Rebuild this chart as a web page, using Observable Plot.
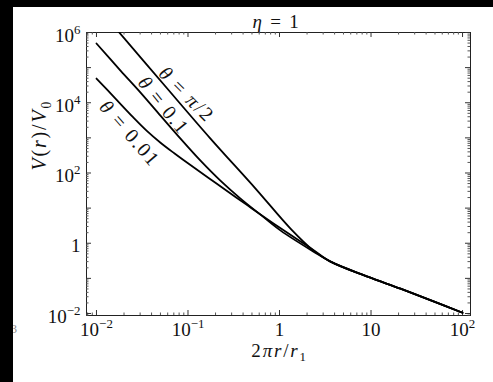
<!DOCTYPE html>
<html><head><meta charset="utf-8">
<script src="https://cdn.jsdelivr.net/npm/d3@7"></script>
<script src="https://cdn.jsdelivr.net/npm/@observablehq/plot@0.6"></script>
<style>
html,body{margin:0;padding:0;background:#000;width:493px;height:382px;overflow:hidden}
#panel{position:absolute;left:13px;top:7px;width:480px;height:375px;background:#fff;overflow:hidden}
#stray{position:absolute;left:-2px;top:315px;font:12px "Liberation Serif",serif;color:#888}
#chart{position:absolute;left:0;top:0}
</style></head><body>
<div id="panel"><div id="chart"></div><span id="stray">3</span></div>
<script>
// ---- data ----
const thetaNames = ["π/2", "0.1", "0.01"];
const x_halfpi = [0.0162, 0.0568, 0.176, 0.547, 1.318, 2.355];
const v_halfpi = [1.32e6, 2.90e4, 955, 36.0, 2.61, 0.615];
const x_01 = [0.01, 0.0183, 0.0303, 0.0500, 0.0828, 0.137, 0.226, 0.375, 0.620, 1.03, 2.355];
const v_01 = [4.87e5, 8.26e4, 1.95e4, 4320, 955, 225, 60.7, 18.7, 6.53, 2.29, 0.577];
const x_001 = [0.01, 0.01585, 0.0251, 0.0355, 0.0501, 0.0708, 0.1, 0.1995, 0.447, 1.0, 2.239];
const v_001 = [4.89e4, 1.377e4, 3882, 1581, 728, 365, 189, 52.7, 11.97, 2.80, 0.70];
// common large-r tail shared by all three curves
const x_tail = [3.61, 9.16, 21.0, 48.2, 100];
const v_tail = [0.299, 0.112, 0.0508, 0.0222, 0.0105];

const xTicks = [0.01, 0.1, 1, 10, 100];
const xTickLabels = ["10^-2", "10^-1", "1", "10", "10^2"];
const yTicks = [1e-2, 1, 1e2, 1e4, 1e6];
const yTickLabels = ["10^-2", "1", "10^2", "10^4", "10^6"];
const yDecades = [1e-2, 1e-1, 1, 1e1, 1e2, 1e3, 1e4, 1e5, 1e6];

const curveLabels = ["θ = π/2", "θ = 0.1", "θ = 0.01"];
const labelX = [0.0964, 0.0540, 0.0230];
const labelV = [1.71e4, 8320, 1327];
const labelAngle = [45, 51, 49];

const titleText = "η = 1";
const xLabelText = "2πr/r1";
const yLabelText = "V(r)/V0";

// ---- build tables ----
const series = [[x_halfpi, v_halfpi], [x_01, v_01], [x_001, v_001]];
const rows = [];
series.forEach(([xs, vs], i) => {
  xs.forEach((x, j) => rows.push({theta: thetaNames[i], x, v: vs[j]}));
  x_tail.forEach((x, j) => rows.push({theta: thetaNames[i], x, v: v_tail[j]}));
});
const minorX = [], minorY = [];
for (let e = -3; e <= 2; e++) for (let m = 2; m <= 9; m++) {
  const t = m * 10 ** e; if (t > 0.0078 && t < 122) minorX.push(t);
}
for (let e = -3; e <= 5; e++) for (let m = 2; m <= 9; m++) {
  const t = m * 10 ** e; if (t > 0.00877 && t < 1e6) minorY.push(t);
}
const labels = curveLabels.map((t, i) => ({t, x: labelX[i], v: labelV[i], a: labelAngle[i]}));

const W = 480, H = 375, mL = 73, mR = 23, mT = 25, mB = 67;
const fw = W - mL - mR, fh = H - mT - mB;
const font = "Liberation Serif";

const chart = Plot.plot({
  width: W, height: H,
  marginLeft: mL, marginRight: mR, marginTop: mT, marginBottom: mB,
  style: {fontFamily: font, background: "white", color: "black"},
  x: {type: "log", domain: [10 ** -2.109, 10 ** 2.087], axis: null},
  y: {type: "log", domain: [10 ** -2.057, 1e6], axis: null},
  marks: [
    Plot.frame({stroke: "#222", strokeWidth: 1}),
    // inward ticks, all four sides
    Plot.tickX(xTicks, {x: d => d, insetTop: fh - 5, stroke: "#333"}),
    Plot.tickX(xTicks, {x: d => d, insetBottom: fh - 5, stroke: "#333"}),
    Plot.tickX(minorX, {x: d => d, insetTop: fh - 2.5, stroke: "#555"}),
    Plot.tickX(minorX, {x: d => d, insetBottom: fh - 2.5, stroke: "#555"}),
    Plot.tickY(yDecades, {y: d => d, insetRight: fw - 5, stroke: "#333"}),
    Plot.tickY(yDecades, {y: d => d, insetLeft: fw - 5, stroke: "#333"}),
    Plot.tickY(minorY, {y: d => d, insetRight: fw - 2.5, stroke: "#555"}),
    Plot.tickY(minorY, {y: d => d, insetLeft: fw - 2.5, stroke: "#555"}),
    // curves
    Plot.line(rows, {x: "x", y: "v", z: "theta", stroke: "black", strokeWidth: 1.8, curve: "catmull-rom", clip: true}),
    // tick labels
    Plot.text(xTicks, {x: d => d, frameAnchor: "bottom", dy: 20, text: (d, i) => xTickLabels[i], fontSize: 19, fill: "#111"}),
    Plot.text(yTicks, {y: d => d, frameAnchor: "left", dx: -6, dy: 3, textAnchor: "end", text: (d, i) => yTickLabels[i], fontSize: 19, fill: "#111"}),
    // axis titles
    Plot.text([xLabelText], {frameAnchor: "bottom", dx: 1, dy: 41, text: d => d, fontSize: 19, fill: "#111"}),
    Plot.text([yLabelText], {frameAnchor: "left", dx: -47, dy: -3.5, rotate: -90, text: d => d, fontSize: 20, fill: "#111"}),
    Plot.text([titleText], {frameAnchor: "top", dx: -2, dy: -18, text: d => d, fontSize: 19, fill: "#111"}),
    // curve labels
    Plot.text(labels, {x: "x", y: "v", text: "t", rotate: "a", fontSize: 20, fill: "#111"})
  ]
});
document.getElementById("chart").appendChild(chart);

// ---- math-style rich text (italics, sub/superscripts, wider spacing) ----
const rich = {
  "2πr/r1": [["2"], ["πr", "i"], ["/"], ["r", "i"], ["1", "sub"]],
  "V(r)/V0": [["V", "i"], ["("], ["r", "i"], [")/"], ["V", "i"], ["0", "sub"]],
  "η = 1": [["η", "i"], [" = 1"]],
  "θ = π/2": [["θ", "i"], [" = "], ["π", "i"], ["/2"]],
  "θ = 0.1": [["θ", "i"], [" = 0.1"]],
  "θ = 0.01": [["θ", "i"], [" = 0.01"]]
};
function powParts(s) {
  const m = s.match(/^10\^(.+)$/);
  return m ? [["10"], [m[1].replace("-", "−"), "sup"]] : null;
}
const NS = "http://www.w3.org/2000/svg";
chart.querySelectorAll("text").forEach(t => {
  const s = t.textContent;
  const isRich = !!rich[s];
  const parts = rich[s] || powParts(s);
  if (!parts) return;
  const fs = parseFloat(getComputedStyle(t).fontSize) || 18;
  t.textContent = "";
  if (isRich) t.setAttribute("letter-spacing", "1.8");
  let cur = 0;
  for (const [str, st] of parts) {
    const ts = document.createElementNS(NS, "tspan");
    ts.textContent = str;
    let target = 0;
    if (st === "i") ts.setAttribute("font-style", "italic");
    if (st === "sup") { ts.setAttribute("font-size", (fs * 0.68).toFixed(1)); target = -0.42 * fs; }
    if (st === "sub") { ts.setAttribute("font-size", (fs * 0.68).toFixed(1)); target = 0.24 * fs; }
    if (target !== cur) { ts.setAttribute("dy", (target - cur).toFixed(1)); cur = target; }
    t.appendChild(ts);
  }
});
</script></body></html>
